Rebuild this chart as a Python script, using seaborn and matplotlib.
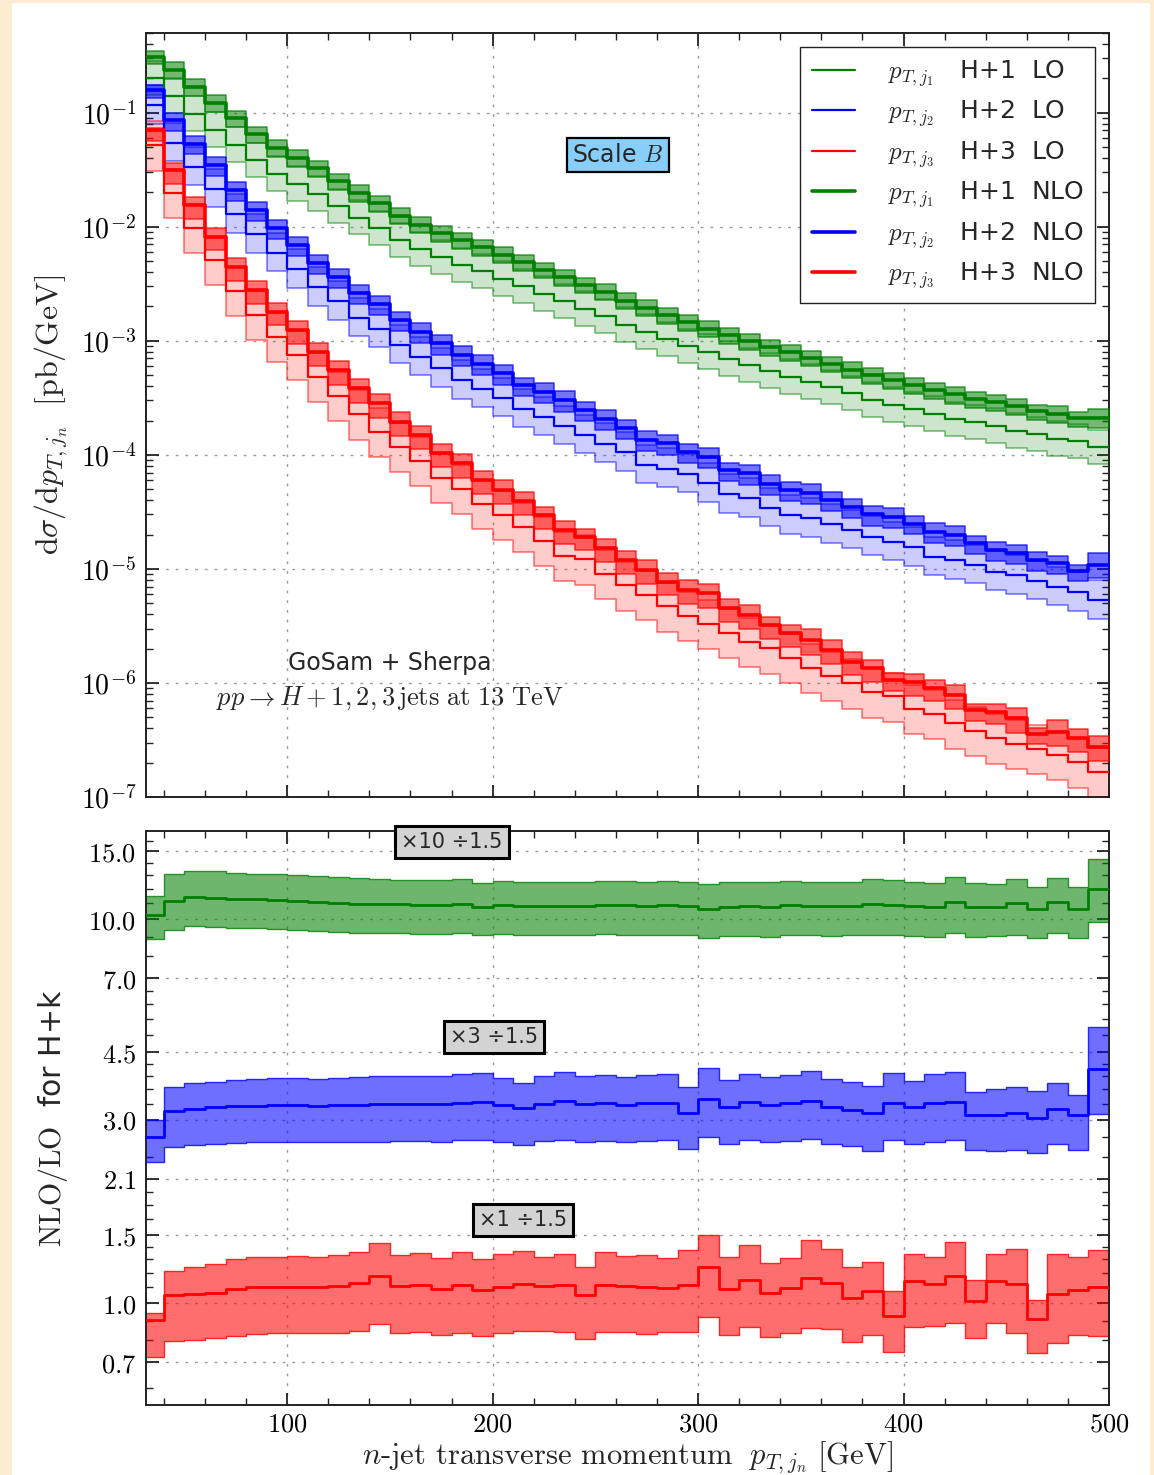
import numpy as np
import matplotlib
matplotlib.use("Agg")
import matplotlib.pyplot as plt
from matplotlib.lines import Line2D
from matplotlib.patches import Rectangle
from matplotlib.colors import to_rgba
from matplotlib.ticker import (FixedLocator, FixedFormatter, NullFormatter, LogLocator,
                               MultipleLocator, FuncFormatter)
import seaborn as sns

sns.set_style("ticks")
plt.rcParams.update({
    "font.family": ["DejaVu Sans"],
    "mathtext.fontset": "cm",
    "axes.linewidth": 1.4,
    "axes.edgecolor": "#222222",
})

# ---------------- data ----------------
bin_edges = np.arange(30, 501, 10)  # 30..500, 47 bins of 10 GeV

# NLO central values, dsigma/dpT [pb/GeV]
nlo_h1 = np.array([0.308, 0.236, 0.168, 0.121, 0.089, 0.0645, 0.049, 0.040, 0.0325, 0.0250,
                   0.0198, 0.0160, 0.0125, 0.0104, 0.0088, 0.0076, 0.0066, 0.0057, 0.0049, 0.0042,
                   0.0036, 0.0031, 0.0027, 0.00225, 0.00195, 0.00168, 0.00146, 0.00128, 0.00112, 0.00099,
                   0.00088, 0.00079, 0.00071, 0.00063, 0.00056, 0.00050, 0.00045, 0.00041, 0.00037, 0.00034,
                   0.00031, 0.00029, 0.00027, 0.00024, 0.00023, 0.00021, 0.00021])
nlo_h2 = np.array([0.157, 0.086, 0.0537, 0.0347, 0.0209, 0.0140, 0.0097, 0.0069, 0.0048, 0.00363,
                   0.00262, 0.00210, 0.00152, 0.00120, 0.00095, 0.00075, 0.00063, 0.000518, 0.000408, 0.000357,
                   0.000302, 0.000247, 0.000208, 0.000173, 0.000135, 0.000126, 0.000106, 9.6e-5, 7.3e-5, 6.9e-5,
                   5.6e-5, 4.9e-5, 4.65e-5, 4.0e-5, 3.5e-5, 3.0e-5, 2.87e-5, 2.5e-5, 2.12e-5, 1.99e-5,
                   1.68e-5, 1.46e-5, 1.37e-5, 1.19e-5, 1.12e-5, 9.6e-6, 1.08e-5])
nlo_h3 = np.array([0.0703, 0.0313, 0.0155, 0.00815, 0.00446, 0.00278, 0.00180, 0.00124, 0.00080, 0.00055,
                   0.000382, 0.000283, 0.000195, 0.000149, 0.000103, 8.4e-5, 6.0e-5, 4.9e-5, 3.9e-5, 2.95e-5,
                   2.19e-5, 1.91e-5, 1.51e-5, 1.19e-5, 9.8e-6, 7.7e-6, 6.5e-6, 6.1e-6, 4.5e-6, 3.94e-6,
                   3.2e-6, 2.72e-6, 2.38e-6, 1.94e-6, 1.53e-6, 1.34e-6, 1.06e-6, 1.02e-6, 8.97e-7, 7.8e-7,
                   5.8e-7, 5.6e-7, 4.9e-7, 3.6e-7, 3.73e-7, 3.27e-7, 2.76e-7])

# displayed NLO/LO ratio (already multiplied by factor / 1.5)
ratio_h1_mid = np.array([10.24, 11.14, 11.43, 11.36, 11.29, 11.25, 11.20, 11.15, 11.09, 11.03,
                         10.95, 10.95, 10.92, 10.88, 10.88, 10.95, 10.76, 10.86, 10.80, 10.80,
                         10.80, 10.78, 10.88, 10.85, 10.80, 10.85, 10.82, 10.62, 10.75, 10.80,
                         10.75, 10.85, 10.80, 10.78, 10.81, 10.92, 10.87, 10.81, 10.72, 11.07,
                         10.72, 10.72, 11.03, 10.60, 11.05, 10.60, 11.97])
ratio_h1_low = np.array([8.85, 9.36, 9.59, 9.55, 9.49, 9.45, 9.40, 9.37, 9.30, 9.25,
                         9.20, 9.20, 9.18, 9.15, 9.15, 9.20, 9.07, 9.13, 9.10, 9.10,
                         9.08, 9.08, 9.15, 9.10, 9.08, 9.10, 9.08, 8.95, 9.05, 9.05,
                         9.00, 9.10, 9.08, 9.05, 9.07, 9.10, 9.10, 9.03, 8.98, 9.18,
                         8.99, 9.03, 9.10, 8.91, 9.18, 8.91, 9.82])
ratio_h1_high = np.array([11.48, 13.07, 13.36, 13.30, 13.18, 13.10, 13.07, 13.00, 12.94, 12.84,
                          12.75, 12.70, 12.66, 12.66, 12.66, 12.72, 12.39, 12.59, 12.50, 12.45,
                          12.45, 12.45, 12.59, 12.55, 12.50, 12.55, 12.50, 12.30, 12.45, 12.50,
                          12.45, 12.55, 12.50, 12.45, 12.51, 12.69, 12.63, 12.49, 12.44, 12.84,
                          12.41, 12.37, 12.74, 12.14, 12.80, 12.10, 14.30])

ratio_h2_mid = np.array([2.71, 3.16, 3.20, 3.23, 3.25, 3.26, 3.27, 3.27, 3.26, 3.27,
                         3.28, 3.29, 3.30, 3.30, 3.30, 3.32, 3.33, 3.28, 3.22, 3.30,
                         3.35, 3.29, 3.31, 3.28, 3.31, 3.32, 3.12, 3.40, 3.24, 3.33,
                         3.28, 3.31, 3.36, 3.24, 3.19, 3.12, 3.32, 3.23, 3.31, 3.34,
                         3.09, 3.08, 3.12, 3.04, 3.21, 3.08, 4.06])
ratio_h2_low = np.array([2.33, 2.55, 2.58, 2.60, 2.61, 2.62, 2.62, 2.62, 2.62, 2.62,
                         2.63, 2.63, 2.64, 2.64, 2.63, 2.65, 2.65, 2.62, 2.58, 2.64,
                         2.66, 2.63, 2.64, 2.62, 2.64, 2.65, 2.52, 2.70, 2.60, 2.65,
                         2.62, 2.64, 2.68, 2.60, 2.56, 2.49, 2.65, 2.59, 2.63, 2.65,
                         2.50, 2.49, 2.51, 2.46, 2.59, 2.50, 3.10])
ratio_h2_high = np.array([3.00, 3.66, 3.73, 3.77, 3.81, 3.83, 3.85, 3.85, 3.83, 3.85,
                          3.87, 3.89, 3.91, 3.91, 3.91, 3.95, 3.96, 3.85, 3.75, 3.91,
                          4.00, 3.91, 3.92, 3.87, 3.93, 3.95, 3.66, 4.10, 3.80, 3.95,
                          3.88, 3.92, 4.02, 3.82, 3.77, 3.68, 3.98, 3.78, 3.95, 3.99,
                          3.54, 3.60, 3.66, 3.57, 3.73, 3.49, 5.22])

ratio_h3_mid = np.array([0.903, 1.047, 1.053, 1.064, 1.085, 1.099, 1.104, 1.104, 1.104, 1.108,
                         1.125, 1.178, 1.108, 1.116, 1.085, 1.115, 1.079, 1.100, 1.120, 1.110,
                         1.115, 1.049, 1.114, 1.107, 1.103, 1.096, 1.116, 1.238, 1.085, 1.148,
                         1.064, 1.096, 1.164, 1.125, 1.028, 1.077, 0.927, 1.143, 1.118, 1.178,
                         1.014, 1.143, 1.121, 0.910, 1.055, 1.081, 1.103])
ratio_h3_low = np.array([0.725, 0.798, 0.800, 0.809, 0.821, 0.829, 0.837, 0.833, 0.833, 0.833,
                         0.847, 0.882, 0.833, 0.840, 0.825, 0.833, 0.822, 0.833, 0.847, 0.843,
                         0.840, 0.805, 0.842, 0.839, 0.830, 0.840, 0.842, 0.918, 0.825, 0.864,
                         0.814, 0.837, 0.859, 0.854, 0.790, 0.825, 0.744, 0.868, 0.871, 0.889,
                         0.809, 0.889, 0.835, 0.743, 0.785, 0.823, 0.822])
ratio_h3_high = np.array([0.943, 1.213, 1.243, 1.261, 1.299, 1.320, 1.315, 1.326, 1.315, 1.330,
                          1.360, 1.430, 1.337, 1.350, 1.310, 1.355, 1.300, 1.340, 1.365, 1.320,
                          1.340, 1.238, 1.360, 1.326, 1.334, 1.313, 1.374, 1.500, 1.320, 1.419,
                          1.269, 1.307, 1.456, 1.380, 1.243, 1.279, 1.077, 1.344, 1.320, 1.439,
                          1.150, 1.339, 1.385, 1.018, 1.344, 1.315, 1.377])

ratio_factor = [10, 3, 1]
ratio_divisor = 1.5
lo_band_down = [0.71, 0.69, 0.60]
lo_band_up = [1.42, 1.50, 1.62]
colors = ["green", "blue", "red"]
jet_labels = ["1", "2", "3"]
ratio_box_text = ["×10 ÷1.5", "×3 ÷1.5", "×1 ÷1.5"]
y_ratio_ticks = [0.7, 1.0, 1.5, 2.1, 3.0, 4.5, 7.0, 10.0, 15.0]
y_ratio_minor = [0.6, 0.8, 0.9, 1.1, 1.2, 1.3, 1.4, 1.65, 1.8, 1.95, 2.4, 2.7, 3.3, 3.6, 3.9, 4.2,
                 5.0, 5.5, 6.0, 6.5, 8.0, 9.0, 11.0, 12.0, 13.0, 14.0, 16.0]
x_ticks = [100, 200, 300, 400, 500]

nlo = [nlo_h1, nlo_h2, nlo_h3]
r_mid = [ratio_h1_mid, ratio_h2_mid, ratio_h3_mid]
r_low = [ratio_h1_low, ratio_h2_low, ratio_h3_low]
r_high = [ratio_h1_high, ratio_h2_high, ratio_h3_high]

# ---------------- figure ----------------
W, H = 1154, 1475
fig = plt.figure(figsize=(W / 100, H / 100), dpi=100, facecolor="#FDEBD2")
fig.patches.append(Rectangle((12 / W, 0), (1150 - 12) / W, (H - 3) / H,
                             transform=fig.transFigure, facecolor="white",
                             edgecolor="none", zorder=-10))

ax1 = fig.add_axes([146 / W, 1 - 797 / H, (1109 - 146) / W, (797 - 33) / H])
ax2 = fig.add_axes([146 / W, 1 - 1405 / H, (1109 - 146) / W, (1405 - 831) / H])


def step_y(v):
    return np.append(v, v[-1])


def band(ax, lo, hi, color, fa, ea, lw, z):
    ax.fill_between(bin_edges, step_y(lo), step_y(hi), step="post",
                    facecolor=to_rgba(color, fa), edgecolor=to_rgba(color, ea),
                    linewidth=lw, zorder=z)


def step_line(ax, v, color, lw, z):
    sns.lineplot(x=bin_edges, y=step_y(v), ax=ax, color=color, lw=lw,
                 drawstyle="steps-post", estimator=None, sort=False,
                 legend=False, zorder=z)


for i in range(3):
    c = colors[i]
    actual_ratio = r_mid[i] * ratio_divisor / ratio_factor[i]
    lo_c = nlo[i] / actual_ratio
    nlo_dn = nlo[i] * r_low[i] / r_mid[i]
    nlo_up = nlo[i] * r_high[i] / r_mid[i]
    band(ax1, lo_c * lo_band_down[i], lo_c * lo_band_up[i], c, 0.2, 0.55, 1.1, 2)
    band(ax1, nlo_dn, nlo_up, c, 0.55, 0.75, 1.1, 3)
    step_line(ax1, lo_c, c, 1.6, 4)
    step_line(ax1, nlo[i], c, 2.6, 5)

    band(ax2, r_low[i], r_high[i], c, 0.57, 0.8, 1.0, 2)
    step_line(ax2, r_mid[i], c, 2.0, 4)

# ---------------- axes styling ----------------
grid_kw = dict(color="#9a9a9a", lw=1.0, ls=(0, (2, 5)))
for ax in (ax1, ax2):
    ax.set_xlim(31.3, 500)
    ax.set_yscale("log")
    ax.xaxis.set_major_locator(FixedLocator(x_ticks))
    ax.xaxis.set_minor_locator(MultipleLocator(20))
    ax.tick_params(which="both", direction="in", top=True, right=True,
                   colors="#222222", labelcolor="black")
    ax.tick_params(which="major", length=9, width=1.3, labelsize=19, pad=7)
    ax.tick_params(which="minor", length=5, width=1.0)
    ax.set_axisbelow(True)
    ax.grid(True, which="major", **grid_kw)
    ax.set_xlabel("")
    ax.set_ylabel("")

ax1.set_ylim(1e-7, 0.5)
ax1.yaxis.set_major_locator(LogLocator(base=10, numticks=20))
ax1.yaxis.set_major_formatter(FuncFormatter(lambda v, p: r"$10^{%d}$" % int(round(np.log10(v)))))
ax1.yaxis.set_minor_locator(LogLocator(base=10, subs=np.arange(2, 10), numticks=100))
ax1.yaxis.set_minor_formatter(NullFormatter())
ax1.tick_params(axis="y", which="major", labelsize=20)
ax1.tick_params(labelbottom=False)

ax2.set_ylim(0.5425, 16.95)
ax2.yaxis.set_major_locator(FixedLocator(y_ratio_ticks))
ax2.yaxis.set_major_formatter(FixedFormatter([r"$%.1f$" % t for t in y_ratio_ticks]))
ax2.yaxis.set_minor_locator(FixedLocator(y_ratio_minor))
ax2.yaxis.set_minor_formatter(NullFormatter())
ax2.xaxis.set_major_formatter(FixedFormatter([r"$%d$" % t for t in x_ticks]))
ax2.tick_params(axis="x", which="major", pad=5)

# labels
ax1.set_ylabel(r"$\mathrm{d}\sigma/\mathrm{d}p_{T,j_n}\ \ [\mathrm{pb/GeV}]$", fontsize=23)
ax1.yaxis.set_label_coords(-0.079, 0.5)
ax2.set_ylabel(r"$\mathrm{NLO/LO}$  for H+k", fontsize=21.5)
ax2.yaxis.set_label_coords(-0.079, 0.5)
ax2.set_xlabel(r"$n\text{-jet transverse momentum}\ \ p_{T,j_n}\ [\text{GeV}]$", fontsize=22)
ax2.xaxis.set_label_coords(0.5, -0.061)

# legend
handles = []
for kind, lw in (("LO", 1.6), ("NLO", 2.6)):
    for i in range(3):
        handles.append(Line2D([], [], color=colors[i], lw=lw,
                              label=r"$p_{T,j_%s}$   H+%s  %s" % (jet_labels[i], jet_labels[i], kind)))
leg = ax1.legend(handles=handles, loc="upper right", bbox_to_anchor=(0.9855, 0.9817),
                 borderaxespad=0, fontsize=18, frameon=True, fancybox=False,
                 framealpha=1, edgecolor="#222222", handlelength=1.75,
                 handletextpad=1.3, labelspacing=0.39, borderpad=0.45)
leg.get_frame().set_linewidth(1.0)
leg.set_zorder(20)

# annotations
ax1.text(0.490, 0.840, r"Scale $B$", transform=ax1.transAxes, fontsize=17,
         ha="center", va="center", zorder=20,
         bbox=dict(boxstyle="square,pad=0.22", facecolor="#87CEFA", edgecolor="black", lw=1.6))
ax1.text(0.2534, 0.1754, "GoSam + Sherpa", transform=ax1.transAxes, fontsize=17,
         ha="center", va="center")
ax1.text(0.2534, 0.1296, r"$pp \rightarrow H+1,2,3\,\mathrm{jets\ at\ 13\ TeV}$",
         transform=ax1.transAxes, fontsize=19, ha="center", va="center")

box_pos = [(0.3178, 0.9808), (0.3614, 0.6411), (0.3915, 0.3223)]
for (bx, by), t in zip(box_pos, ratio_box_text):
    ax2.text(bx, by, t, transform=ax2.transAxes, fontsize=15, ha="center", va="center",
             zorder=20, bbox=dict(boxstyle="square,pad=0.3", facecolor="#D3D3D3",
                                  edgecolor="black", lw=2.2))

fig.savefig("out.png", dpi=100, facecolor=fig.get_facecolor())
